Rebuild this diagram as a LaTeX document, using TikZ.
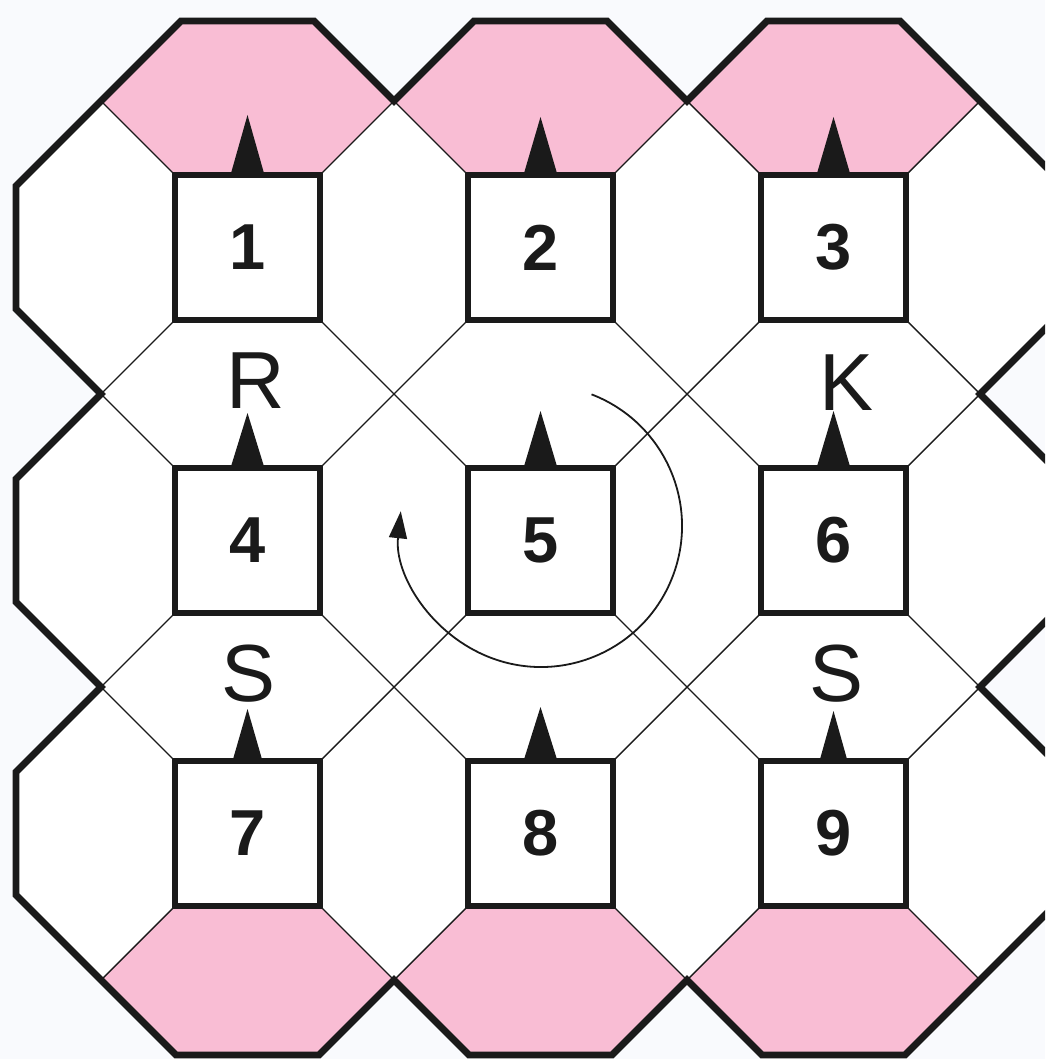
\documentclass[tikz,border=0pt]{standalone}
\usepackage{fontspec}
\setmainfont{Liberation Sans}
\usetikzlibrary{arrows.meta,calc}
\definecolor{bgc}{RGB}{249,250,253}
\definecolor{pinkc}{RGB}{249,189,212}
\definecolor{inkc}{RGB}{26,26,26}
\begin{document}
\begin{tikzpicture}[x=1pt,y=-1pt,
  sq/.style={draw=inkc,line width=6.8pt,fill=white,minimum size=145pt,inner sep=0pt,outer sep=0pt,
             font=\fontsize{65}{65}\selectfont\bfseries,text=inkc},
  lbl/.style={inner sep=0pt,font=\fontsize{81}{81}\selectfont,text=inkc},
  thinln/.style={draw=inkc,line width=1.4pt},
  border/.style={draw=inkc,line width=6.8pt,line join=miter},
  pinkfill/.style={fill=pinkc},
  turn/.style={draw=inkc,line width=1.8pt,-{Triangle[length=27pt,width=18pt]}}]
\useasboundingbox (0,0) rectangle (1045,1059);
\clip (0,0) rectangle (1045,1059);
\fill[bgc] (0,0) rectangle (1045,1059);
\def\myoutline{(16,186) -- (181,21) -- (314,21) -- (394,101) -- (474,21) -- (607,21) -- (687,101) -- (767,21) -- (900,21) -- (1065,186) -- (1065,309) -- (980,394) -- (1065,479) -- (1065,602) -- (980,687) -- (1065,772) -- (1065,895) -- (905,1055) -- (762,1055) -- (687,980) -- (612,1055) -- (469,1055) -- (394,980) -- (319,1055) -- (176,1055) -- (16,895) -- (16,772) -- (101,687) -- (16,602) -- (16,479) -- (101,394) -- (16,309) -- cycle}
\fill[white] \myoutline;
% pink regions
\foreach \cx in {247.5,540.5,833.5}{
  \fill[pinkfill] ({\cx-146.5},101) -- ({\cx-66.5},21) -- ({\cx+66.5},21) -- ({\cx+146.5},101) -- ({\cx+72.5},175) -- ({\cx-72.5},175) -- cycle;
  \fill[pinkfill] ({\cx-146.5},980) -- ({\cx-72.5},906) -- ({\cx+72.5},906) -- ({\cx+146.5},980) -- ({\cx+71.5},1055) -- ({\cx-71.5},1055) -- cycle;
}
\draw[border] \myoutline;
% squares
\foreach \i/\x/\y in {1/247.5/247.5,2/540.5/247.5,3/833.5/247.5,
                      4/247.5/540.5,5/540.5/540.5,6/833.5/540.5,
                      7/247.5/833.5,8/540.5/833.5,9/833.5/833.5}{
  \node[sq] (s\i) at (\x,\y) {\i};
}
% thin diagonal edges
\foreach \i in {1,...,9}{
  \draw[thinln] (s\i.north east) -- ++(74,-74);
  \draw[thinln] (s\i.north west) -- ++(-74,-74);
  \draw[thinln] (s\i.south east) -- ++(74,74);
  \draw[thinln] (s\i.south west) -- ++(-74,74);
}
% direction triangles
\foreach \i/\h/\w in {1/60/17,2/58/17,3/58/17,4/55/17,5/57/17,6/57/17,7/52/15,8/54/17,9/50/14}{
  \fill[inkc] ($(s\i.north)+(-\w,0)$) -- ($(s\i.north)+(0,-\h)$) -- ($(s\i.north)+(\w,0)$) -- cycle;
}
% labels
\node[lbl] (lR) at (255.5,381) {R};
\node[lbl] (lK) at (846,383) {K};
\node[lbl] (lS1) at (248.5,674) {S};
\node[lbl] (lS2) at (837,674) {S};
% rotation arrow around square 5
\coordinate (arcc) at (541,526);
\draw[turn] (arcc) ++(69:141pt) arc[start angle=69,end angle=-186,radius=141pt];
\end{tikzpicture}
\end{document}
